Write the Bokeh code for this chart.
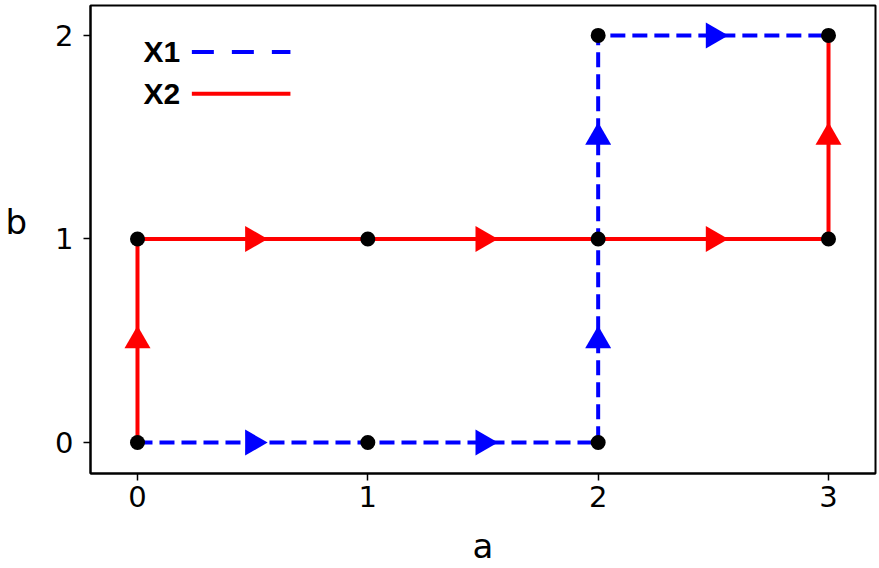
from bokeh.plotting import figure
from bokeh.models import Range1d, Label
from bokeh.embed import file_html
from bokeh.resources import INLINE
import numpy as np

# Data
x1_a = [0, 1, 2, 2, 2, 3]
x1_b = [0, 0, 0, 1, 2, 2]
x2_a = [0, 0, 1, 2, 3, 3]
x2_b = [0, 1, 1, 1, 1, 2]
x_ticks = [0, 1, 2, 3]
y_ticks = [0, 1, 2]
x_label = "a"
y_label = "b"
series_names = ["X1", "X2"]

BLUE = "#0000ff"
RED = "#ff0000"

p = figure(width=879, height=568, output_backend="svg", toolbar_location=None,
           x_range=Range1d(-0.204, 3.204), y_range=Range1d(-0.152, 2.147),
           min_border_left=90, min_border_right=4, min_border_top=5, min_border_bottom=95)
p.grid.visible = False
p.outline_line_color = "#000000"
p.outline_line_width = 2
p.outline_line_alpha = 1

for ax in (p.xaxis, p.yaxis):
    ax.axis_line_width = 2
    ax.axis_line_color = "#000000"
    ax.major_tick_line_width = 1.5
    ax.major_tick_out = 7
    ax.major_tick_in = 0
    ax.minor_tick_line_color = None
    ax.major_label_text_font = "DejaVu Sans"
    ax.major_label_text_font_size = "29px"
    ax.major_label_text_color = "#000000"
    ax.axis_label_text_font = "DejaVu Sans"
    ax.axis_label_text_font_size = "34px"
    ax.axis_label_text_font_style = "normal"
    ax.axis_label_text_color = "#000000"

p.xaxis.ticker = x_ticks
p.yaxis.ticker = y_ticks
p.xaxis.axis_label = x_label
# trailing empty line lifts the horizontal label slightly above the axis centre
p.yaxis.axis_label = y_label + "\n"
p.yaxis.axis_label_orientation = "horizontal"
p.yaxis.axis_label_text_line_height = 0.9
p.xaxis.major_label_standoff = 5
p.yaxis.major_label_standoff = 10
p.xaxis.axis_label_standoff = 16
p.yaxis.axis_label_standoff = 25


def midpoints(xs, ys):
    mx, my, ang = [], [], []
    for i in range(len(xs) - 1):
        dx = xs[i + 1] - xs[i]
        dy = ys[i + 1] - ys[i]
        mx.append((xs[i] + xs[i + 1]) / 2)
        my.append((ys[i] + ys[i + 1]) / 2)
        ang.append(np.arctan2(dy, dx) - np.pi / 2)
    return mx, my, ang

# X2 (red solid)
p.line(x2_a, x2_b, line_color=RED, line_width=4)
mx, my, ang = midpoints(x2_a, x2_b)
p.scatter(mx, my, marker="triangle", angle=ang, size=26, fill_color=RED, line_color=None)

# X1 (blue dashed)
p.line(x1_a, x1_b, line_color=BLUE, line_width=4, line_dash="15 7")
mx, my, ang = midpoints(x1_a, x1_b)
p.scatter(mx, my, marker="triangle", angle=ang, size=26, fill_color=BLUE, line_color=None)

# points
pts = sorted(set(zip(x1_a + x2_a, x1_b + x2_b)))
p.scatter([q[0] for q in pts], [q[1] for q in pts], size=15, fill_color="black", line_color=None)

# custom legend: label then line
leg_x_text = 0.026
leg_line = (0.236, 0.664)
leg_y = [1.919, 1.713]
styles = [(BLUE, "22 18"), (RED, "solid")]
for name, yy, (col, dash) in zip(series_names, leg_y, styles):
    p.add_layout(Label(x=leg_x_text, y=yy, text=name, text_font="Liberation Sans",
                       text_font_style="bold", text_font_size="30px", text_color="#000000",
                       text_baseline="middle", text_align="left"))
    p.line([leg_line[0], leg_line[1]], [yy, yy], line_color=col, line_width=4, line_dash=dash)

open("out.html", "w").write(file_html(p, INLINE))
